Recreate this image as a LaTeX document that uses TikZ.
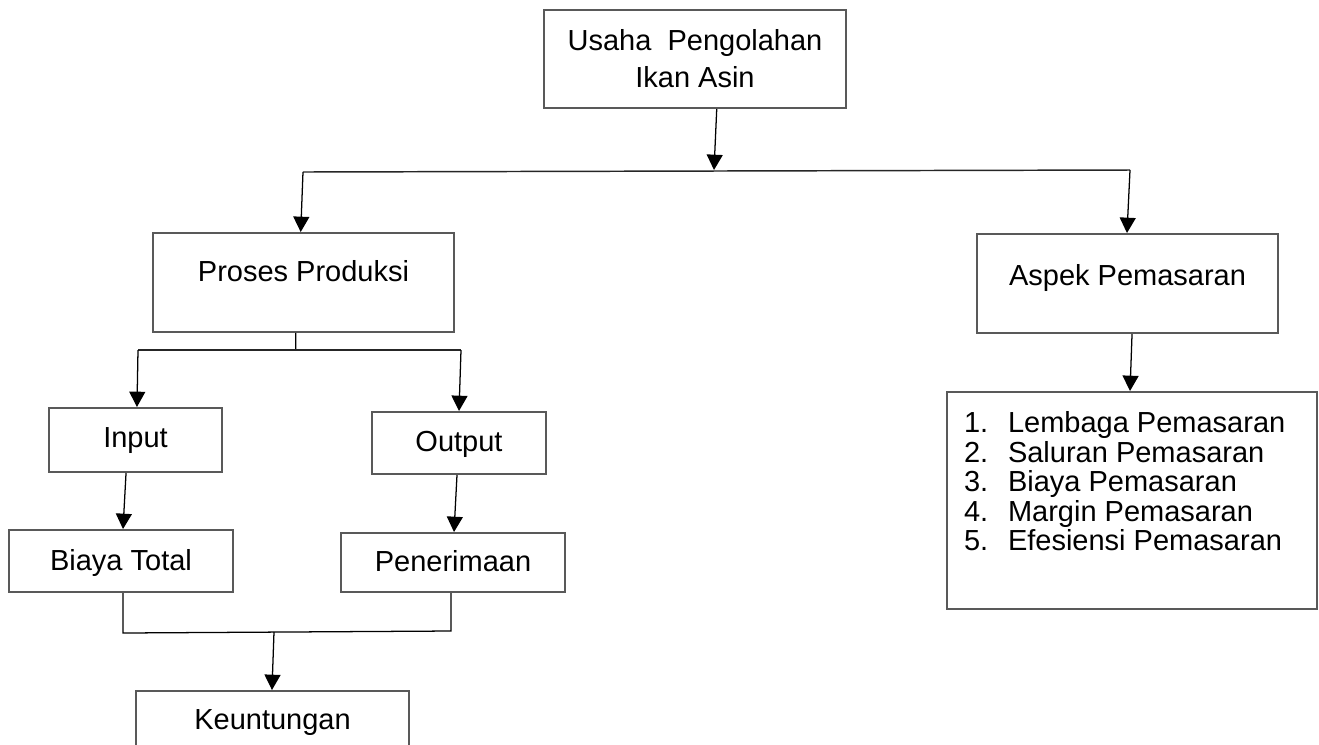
\documentclass[tikz,border=0pt]{standalone}
\usepackage{fontspec}
\setmainfont{Liberation Sans}
\usetikzlibrary{arrows.meta}
\definecolor{boxgray}{HTML}{595959}
\begin{document}
\begin{tikzpicture}[x=0.75pt,y=-0.75pt,
  font=\fontsize{21.75}{27.4}\selectfont,
  bx/.style={draw=boxgray,line width=1.5pt,inner sep=0pt,anchor=north},
  conn/.style={black,line width=0.95pt},
  arr/.style={conn,-{Triangle[width=12pt,length=11.5pt]}},
  hline/.style={draw=black!85,line width=1.1pt}]
\clip (0,0) rectangle (1319,744);
\fill[white] (0,0) rectangle (1319,744);

% boxes
\node[bx,minimum width=226.5pt,text height=30.4pt,text depth=43.1pt] (top) at (695,9)
  {\vtop{\baselineskip=27.4pt\lineskiplimit=-20pt
    \hbox to 220pt{\hfil Usaha\ \ Pengolahan\hfil}
    \hbox to 220pt{\hfil Ikan Asin\hfil}}};
\node[bx,minimum width=225.75pt,text height=36.5pt,text depth=37.7pt] (proses) at (303.5,232) {Proses Produksi};
\node[bx,minimum width=225.75pt,text height=38.25pt,text depth=36pt] (aspek) at (1127.5,233) {Aspek Pemasaran};
\node[bx,minimum width=129.75pt,text height=29.25pt,text depth=18.75pt] (input) at (135.5,407) {Input};
\node[bx,minimum width=130.5pt,text height=29.25pt,text depth=17.25pt] (output) at (459,411) {Output};
\node[bx,minimum width=168pt,text height=30pt,text depth=16.5pt] (biaya) at (121,529) {Biaya Total};
\node[bx,minimum width=168pt,text height=28.5pt,text depth=15.75pt] (pen) at (453,532) {Penerimaan};
\node[bx,minimum width=204.75pt,text height=28.5pt,text depth=24pt] (keun) at (272.5,690) {Keuntungan};
\node[bx,minimum width=277.5pt,text height=30.5pt,text depth=132.2pt] (list) at (1132,391)
  {\vtop{\baselineskip=22.1pt\lineskiplimit=-20pt
    \hbox to 252pt{\makebox[33pt][l]{1.}Lembaga Pemasaran\hfil}
    \hbox to 252pt{\makebox[33pt][l]{2.}Saluran Pemasaran\hfil}
    \hbox to 252pt{\makebox[33pt][l]{3.}Biaya Pemasaran\hfil}
    \hbox to 252pt{\makebox[33pt][l]{4.}Margin Pemasaran\hfil}
    \hbox to 252pt{\makebox[33pt][l]{5.}Efesiensi Pemasaran\hfil}}};

% junction points
\coordinate (j1) at (714,170);
\coordinate (hl) at (303,172);
\coordinate (hr) at (1130,170);
\coordinate (j2) at (295.7,350);
\coordinate (l2) at (138,350);
\coordinate (r2) at (461,350);
\coordinate (l3) at (123,633);
\coordinate (r3) at (451,631);
\coordinate (j3) at (274,632);

% connectors
\draw[hline] (hl) -- (hr);
\draw[arr] ([xshift=16.3pt]top.south) -- (j1);
\draw[arr] (hl) -- ([xshift=-2.1pt]proses.north);
\draw[arr] (hr) -- ([xshift=-0.4pt]aspek.north);
\draw[arr] ([xshift=3.4pt]aspek.south) -- ([xshift=-1.5pt]list.north);
\draw[conn] ([xshift=-5.8pt]proses.south) -- (j2);
\draw[hline] (l2) -- (r2);
\draw[arr] (l2) -- ([xshift=1.1pt]input.north);
\draw[arr] (r2) -- (output.north);
\draw[arr] ([xshift=-7.1pt]input.south) -- ([xshift=1.5pt]biaya.north);
\draw[arr] ([xshift=-1.5pt]output.south) -- ([xshift=0.75pt]pen.north);
\draw[conn] ([xshift=1.5pt]biaya.south) -- (l3) -- (r3) -- ([xshift=-1.5pt]pen.south);
\draw[arr] (j3) -- ([xshift=-0.4pt]keun.north);
\end{tikzpicture}
\end{document}
